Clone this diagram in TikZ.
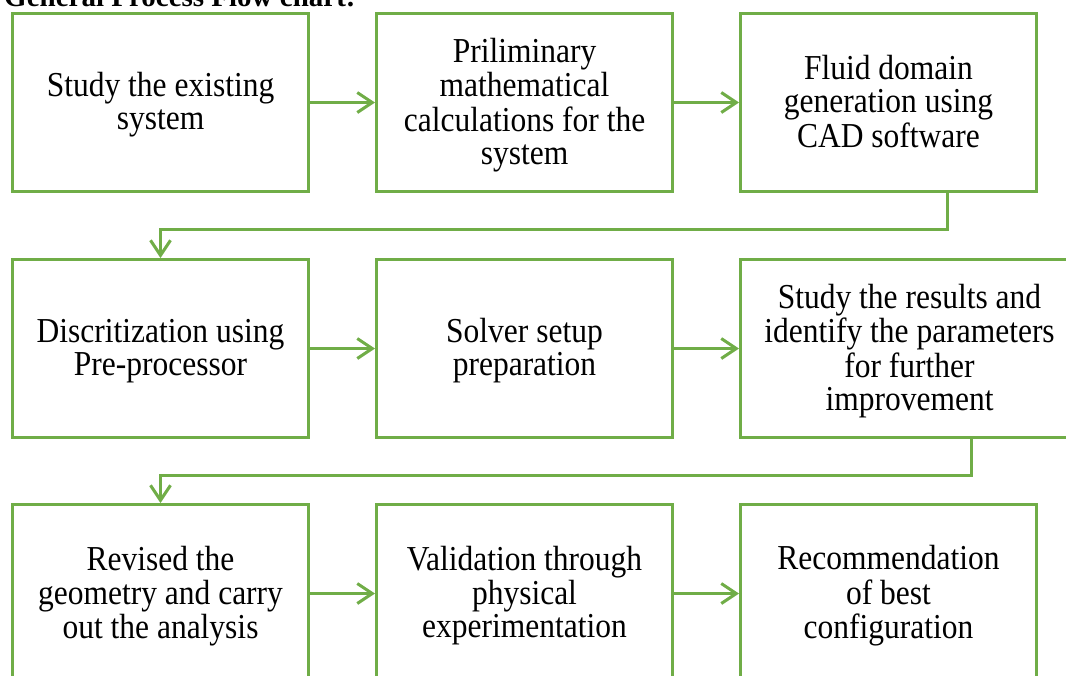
\documentclass[tikz,border=0pt]{standalone}
\usepackage{fontspec}
\setmainfont{Liberation Serif}
\usetikzlibrary{arrows.meta,positioning}
\definecolor{grn}{RGB}{112,173,71}
\newcommand\boxtext[1]{\raisebox{-3.5pt}[\height][\depth]{\scalebox{0.9}[1]{\fontsize{35}{33}\selectfont\begin{tabular}{@{}c@{}}#1\end{tabular}}}}
\begin{document}
\begin{tikzpicture}[x=1pt,y=-1pt,
  box/.style={draw=grn,line width=3pt,fill=white,minimum width=296pt,minimum height=178pt,
    anchor=north west,inner sep=0pt},
  arr/.style={draw=grn,line width=3pt,-{Straight Barb[length=15pt,width=20pt,line width=3pt]}}]
\useasboundingbox (0,0) rectangle (1066,675);
\clip (0,0) rectangle (1066,675);
\node[anchor=base west,font=\bfseries\fontsize{29}{33}\selectfont,inner sep=0pt] (title) at (4,6) {General Process Flow chart:};
\node[box] (b1) at (11,12) {\boxtext{Study the existing\\system}};
\node[box] (b2) at (375,12) {\boxtext{Priliminary\\mathematical\\calculations for the\\system}};
\node[box] (b3) at (739,12) {\boxtext{Fluid domain\\generation using\\CAD software}};
\node[box] (b4) at (11,258) {\boxtext{Discritization using\\Pre-processor}};
\node[box] (b5) at (375,258) {\boxtext{Solver setup\\preparation}};
\node[box,minimum width=338pt] (b6) at (739,258) {\boxtext{Study the results and\\identify the parameters\\for further\\improvement}};
\node[box] (b7) at (11,503) {\boxtext{Revised the\\geometry and carry\\out the analysis}};
\node[box] (b8) at (375,503) {\boxtext{Validation through\\physical\\experimentation}};
\node[box] (b9) at (739,503) {\boxtext{Recommendation\\of best\\configuration}};
\draw[arr] (b1.east) -- (b2.west);
\draw[arr] (b2.east) -- (b3.west);
\draw[arr] (b4.east) -- (b5.west);
\draw[arr] (b5.east) -- (b6.west);
\draw[arr] (b7.east) -- (b8.west);
\draw[arr] (b8.east) -- (b9.west);
\draw[arr] ([xshift=59pt]b3.south) -- ++(0,36) -| (b4.north);
\draw[arr] ([xshift=62pt]b6.south) -- ++(0,36) -| (b7.north);
\end{tikzpicture}
\end{document}
